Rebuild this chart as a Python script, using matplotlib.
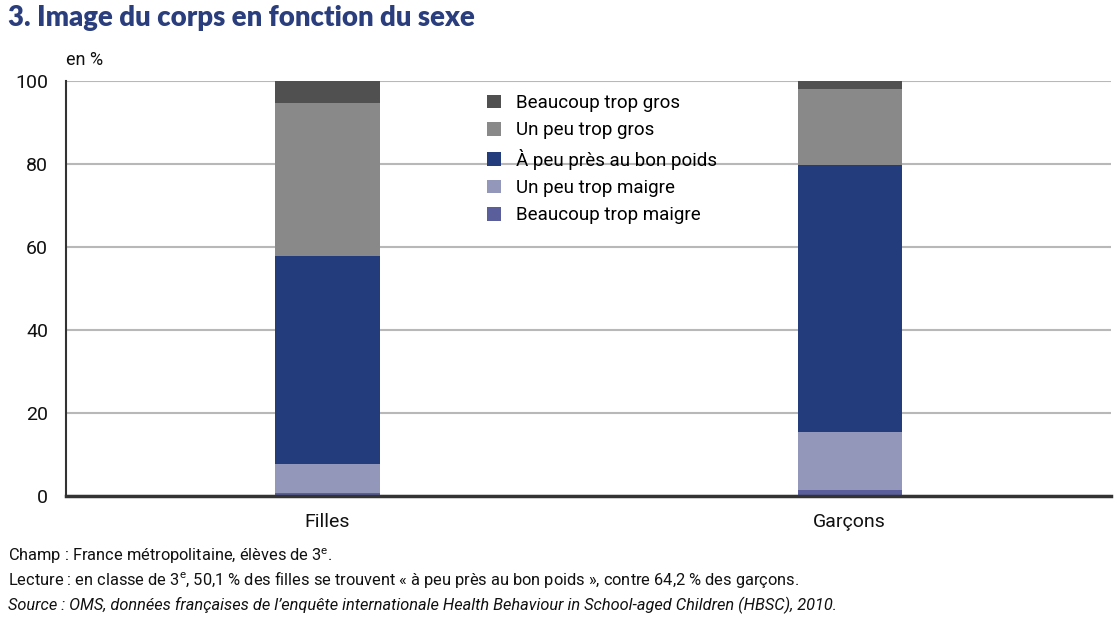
import matplotlib
matplotlib.use("Agg")
import matplotlib.pyplot as plt

# Fonts
plt.rcParams["font.family"] = ["Roboto", "DejaVu Sans"]
plt.rcParams["mathtext.fontset"] = "custom"
plt.rcParams["mathtext.rm"] = "Roboto"
plt.rcParams["mathtext.it"] = "Roboto:italic"

# Data (en %)
groups = ["Filles", "Garçons"]
categories = ["Beaucoup trop maigre", "Un peu trop maigre", "À peu près au bon poids",
              "Un peu trop gros", "Beaucoup trop gros"]
beaucoup_maigre = [0.7, 1.5]
peu_maigre = [7.1, 14.0]
bon_poids = [50.1, 64.2]
peu_gros = [36.7, 18.4]
beaucoup_gros = [5.4, 1.9]
colors = ["#5a5f9b", "#9398bb", "#233d7c", "#898989", "#505050"]

series = [beaucoup_maigre, peu_maigre, bon_poids, peu_gros, beaucoup_gros]

fig = plt.figure(figsize=(11.17, 6.25), dpi=100)
ax = fig.add_axes([66 / 1117, 1 - 496 / 625, (1111 - 66) / 1117, (496 - 81) / 625])

x = list(range(len(groups)))
bottom = [0, 0]
handles = []
for vals, col, lab in zip(series, colors, categories):
    b = ax.bar(x, vals, width=0.2, bottom=bottom, color=col, label=lab, zorder=3)
    handles.append(b)
    bottom = [bt + v for bt, v in zip(bottom, vals)]

ax.set_xlim(-0.5, 1.5)
ax.set_ylim(0, 100)
ax.set_yticks([0, 20, 40, 60, 80, 100])
ax.set_xticks(x)
ax.set_xticklabels(groups)
ax.tick_params(axis="both", length=0, labelsize=14, colors="#111111")
ax.tick_params(axis="y", pad=13)
ax.tick_params(axis="x", pad=12)
ax.grid(axis="y", color="#b8b8b8", linewidth=1.5, zorder=0)
ax.spines["top"].set_visible(False)
ax.spines["right"].set_visible(False)
ax.spines["left"].set_color("#333333")
ax.spines["bottom"].set_color("#333333")
ax.spines["left"].set_linewidth(1.5)
ax.spines["bottom"].set_linewidth(2.5)
ax.spines["bottom"].set_zorder(4)

# Legend (reversed order, top segment first)
ax.legend(handles[::-1], categories[::-1], loc="upper left",
          bbox_to_anchor=((487 - 66) / 1045, 1 - 13 / 415), frameon=False,
          fontsize=13.5, handlelength=0.75, handleheight=0.75, handletextpad=0.8,
          labelspacing=0.5, borderaxespad=0, borderpad=0)

# Title and unit
fig.text(8 / 1117, 1 - 18 / 625, "3. Image du corps en fonction du sexe",
         fontsize=19.8, fontweight="heavy", color="#2a3d7c",
         family=["Lato", "DejaVu Sans"], va="center", ha="left")
fig.text(66 / 1117, 1 - 60 / 625, "en %", fontsize=13, va="center", ha="left", color="#111111")

# Footnotes
fig.text(8 / 1117, 1 - 556 / 625, r"Champ : France métropolitaine, élèves de 3$^{\mathrm{e}}$.",
         fontsize=11.8, va="center", ha="left", color="#111111")
fig.text(8 / 1117, 1 - 580 / 625,
         r"Lecture : en classe de 3$^{\mathrm{e}}$, 50,1 % des filles se trouvent « à peu près au bon poids », contre 64,2 % des garçons.",
         fontsize=11.8, va="center", ha="left", color="#111111")
fig.text(8 / 1117, 1 - 605 / 625,
         "Source : OMS, données françaises de l’enquête internationale Health Behaviour in School-aged Children (HBSC), 2010.",
         fontsize=11.8, style="italic", va="center", ha="left", color="#111111")

fig.savefig("out.png", dpi=100)
